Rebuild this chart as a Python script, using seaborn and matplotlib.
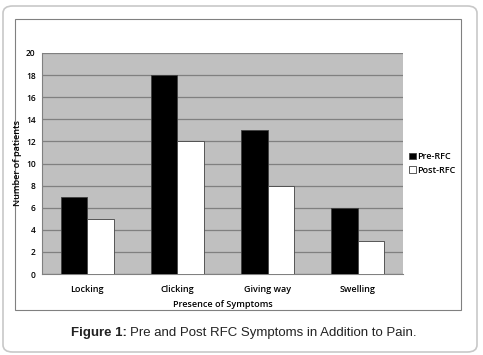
import matplotlib
matplotlib.use("Agg")
import matplotlib.pyplot as plt
import seaborn as sns
import pandas as pd
from matplotlib.patches import FancyBboxPatch, Rectangle

categories = ["Locking", "Clicking", "Giving way", "Swelling"]
pre_rfc = [7, 18, 13, 6]
post_rfc = [5, 12, 8, 3]
series = ["Pre-RFC", "Post-RFC"]
yticks = [0, 2, 4, 6, 8, 10, 12, 14, 16, 18, 20]

df = pd.DataFrame({
    "Symptom": categories * 2,
    "Count": pre_rfc + post_rfc,
    "Series": [series[0]] * 4 + [series[1]] * 4,
})

sns.set_style("white")
plt.rcParams['font.family'] = ['Open Sans', 'DejaVu Sans']
plt.rcParams['font.weight'] = 'semibold'
plt.rcParams['axes.labelweight'] = 'semibold'
plt.rcParams['text.color'] = 'black'
plt.rcParams['axes.labelcolor'] = 'black'
plt.rcParams['xtick.labelcolor'] = 'black'
plt.rcParams['ytick.labelcolor'] = 'black'

W, H = 483, 355
fig = plt.figure(figsize=(W / 100, H / 100), dpi=100)

# outer rounded box
fig.patches.append(FancyBboxPatch((3 / W, 3 / H), (477 - 3) / W, (349 - 3) / H,
                                  boxstyle="round,pad=0,rounding_size=0.02",
                                  transform=fig.transFigure, facecolor="white",
                                  edgecolor="#c8c8c8", linewidth=1.2, zorder=-2))
# inner chart box
fig.patches.append(Rectangle((15 / W, 1 - 310 / H), (461 - 15) / W, (310 - 19) / H,
                             transform=fig.transFigure, facecolor="white",
                             edgecolor="#808080", linewidth=0.8, zorder=-1))

ax = fig.add_axes([42 / W, 1 - 274 / H, (403 - 42) / W, (274 - 53) / H])
ax.set_zorder(1)
ax.set_facecolor("#c0c0c0")
sns.barplot(data=df, x="Symptom", y="Count", hue="Series",
            palette={"Pre-RFC": "black", "Post-RFC": "white"},
            edgecolor="#404040", linewidth=0.6, width=0.59, gap=0,
            ax=ax, legend=True, zorder=3)
ax.set_ylim(0, 20)
ax.set_xlim(-0.5, 3.5)
ax.set_yticks(yticks)
ax.yaxis.grid(True, color="#808080", linewidth=0.9, zorder=0)
ax.set_axisbelow(True)
for s in ["top", "right"]:
    ax.spines[s].set_visible(False)
for s in ["left", "bottom"]:
    ax.spines[s].set_color("#808080")
    ax.spines[s].set_linewidth(0.8)

ax.tick_params(axis="y", which="major", length=3, color="#808080", labelsize=6, pad=1.5)
ax.tick_params(axis="x", which="major", length=0, labelsize=6.5, pad=8)
ax.set_xticks([-0.5, 0.5, 1.5, 2.5, 3.5], minor=True)
ax.tick_params(axis="x", which="minor", length=3, color="#808080", direction="out")
ax.set_xlabel("Presence of Symptoms", fontsize=6.5, labelpad=4)
ax.set_ylabel("Number of patients", fontsize=6.5, labelpad=3)

leg = ax.legend(loc="center left", bbox_to_anchor=(1.0, 0.5), frameon=False,
                fontsize=6.5, handlelength=0.7, handleheight=0.7,
                handletextpad=0.2, labelspacing=0.5, borderaxespad=0.3)

ta = fig.text(71 / W, 1 - 333 / H, "Figure 1:", ha="left", va="center", fontsize=9.5,
              family="Liberation Sans", fontweight="bold", color="#222222")
fig.canvas.draw()
bb2 = ta.get_window_extent()
fig.text(bb2.x1 / W + 3 / W, 1 - 333 / H, "Pre and Post RFC Symptoms in Addition to Pain.",
         ha="left", va="center", fontsize=9.5, family="Liberation Sans",
         fontweight="normal", color="#222222")

fig.savefig("out.png", dpi=100)
